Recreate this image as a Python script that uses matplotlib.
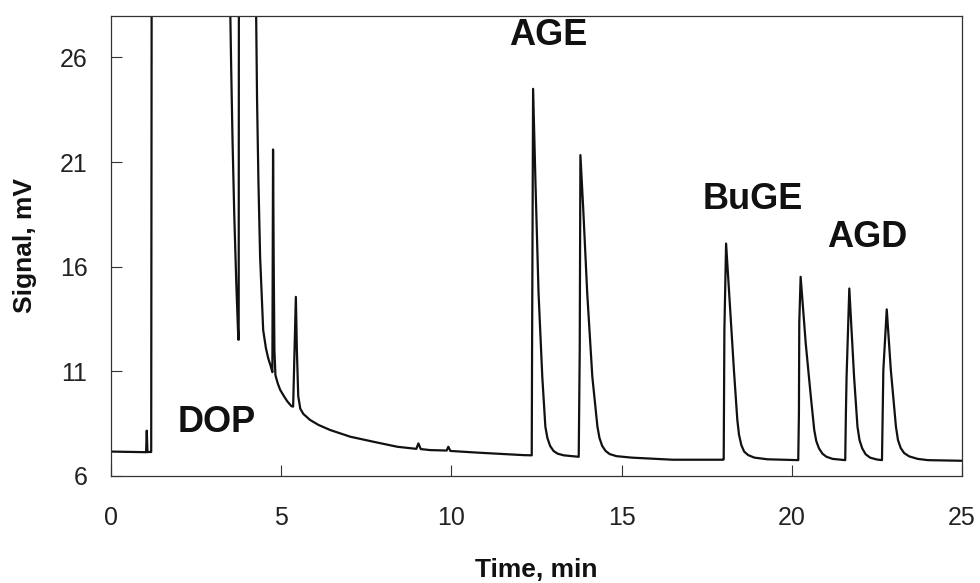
import matplotlib
matplotlib.use("Agg")
import matplotlib.pyplot as plt

# Chromatogram trace: retention time (min) and detector signal (mV).
# Values above the plot ceiling mark the off-scale solvent region.
time_min = [
    0.00, 0.60, 1.03, 1.05, 1.07, 1.10, 1.18, 1.20,
    3.48, 3.50, 3.53, 3.57, 3.62, 3.68, 3.74, 3.75,
    3.76, 4.25, 4.26, 4.29, 4.33, 4.38, 4.47, 4.55, 4.62, 4.68, 4.74,
    4.76, 4.78, 4.80, 4.83, 4.90, 4.97, 5.08, 5.18, 5.30, 5.35,
    5.43, 5.46, 5.50, 5.56, 5.65, 5.85, 6.10, 6.44, 7.03, 7.71, 8.41,
    8.97, 9.03, 9.10, 9.38, 9.86, 9.91, 9.97, 10.76, 12.12, 12.36,
    12.37, 12.40, 12.47, 12.56, 12.67, 12.76, 12.82, 12.90, 13.00,
    13.12, 13.30, 13.74,
    13.77, 13.79, 13.87, 13.99, 14.14, 14.29, 14.35, 14.43, 14.53,
    14.65, 14.85, 15.30, 16.50, 17.98,
    18.00, 18.02, 18.07, 18.21, 18.30, 18.40, 18.45, 18.52, 18.60,
    18.72, 18.90, 19.29, 20.19,
    20.21, 20.22, 20.26, 20.41, 20.56, 20.66, 20.72, 20.80, 20.90,
    21.02, 21.20, 21.57,
    21.59, 21.61, 21.69, 21.83, 21.93, 21.99, 22.07, 22.17, 22.30,
    22.50, 22.65,
    22.67, 22.69, 22.79, 22.91, 23.06, 23.12, 23.20, 23.30, 23.45,
    23.70, 24.00, 25.00,
]
signal_mv = [
    7.15, 7.13, 7.12, 8.15, 7.12, 7.13, 7.13, 40.0,
    40.0, 28.5, 25.5, 22.0, 18.5, 15.2, 12.5, 12.5,
    40.0, 40.0, 28.5, 24.0, 20.1, 16.45, 12.96, 12.1, 11.6, 11.3, 10.95,
    21.6, 16.0, 12.0, 10.8, 10.4, 10.1, 9.8, 9.55, 9.32, 9.30,
    14.55, 12.0, 9.8, 9.2, 8.95, 8.66, 8.42, 8.18, 7.86, 7.62, 7.38,
    7.28, 7.54, 7.27, 7.22, 7.20, 7.38, 7.18, 7.10, 6.98, 6.97,
    12.0, 24.5, 19.99, 14.73, 10.73, 8.34, 7.80, 7.42, 7.18,
    7.05, 6.97, 6.90,
    12.0, 21.33, 18.85, 14.73, 10.73, 8.34, 7.80, 7.42, 7.18,
    7.03, 6.93, 6.86, 6.76, 6.76,
    6.78, 12.96, 17.1, 13.44, 11.05, 8.66, 7.95, 7.45, 7.15,
    6.98, 6.86, 6.78, 6.74,
    9.0, 13.3, 15.51, 12.32, 9.77, 8.18, 7.65, 7.30, 7.05,
    6.90, 6.80, 6.74,
    9.0, 10.73, 14.95, 10.73, 8.34, 7.70, 7.30, 7.02, 6.86,
    6.77, 6.74,
    9.0, 11.05, 13.95, 11.05, 8.34, 7.70, 7.32, 7.08, 6.92,
    6.80, 6.74, 6.71,
]

# Peak annotations: label, time, signal
peak_labels = ["DOP", "AGE", "BuGE", "AGD"]
label_time = [3.09, 12.85, 18.85, 22.22]
label_signal = [8.54, 27.04, 19.22, 17.38]

x_ticks = [0, 5, 10, 15, 20, 25]
y_ticks = [6, 11, 16, 21, 26]

plt.rcParams["font.family"] = ["Liberation Sans", "DejaVu Sans"]

fig = plt.figure(figsize=(9.8, 5.83), dpi=100)
ax = fig.add_axes([0.1133, 0.1842, 0.9816 - 0.1133, 0.9731 - 0.1842])

ax.plot(time_min, signal_mv, color="#111111", lw=1.6, solid_joinstyle="round")

ax.set_xlim(0, 25)
ax.set_ylim(6, 28)
ax.set_xticks(x_ticks)
ax.set_yticks(y_ticks)
ax.tick_params(direction="in", length=8, width=0.8, colors="#333333",
               labelcolor="#222222", labelsize=18)
ax.tick_params(axis="x", pad=22)
ax.tick_params(axis="y", pad=17)
for side in ax.spines.values():
    side.set_color("#333333")
    side.set_linewidth(0.9)

ax.set_xlabel("Time, min", fontsize=19, fontweight="bold", color="#111111",
              labelpad=20)
ax.set_ylabel("Signal, mV", fontsize=19, fontweight="bold", color="#111111",
              labelpad=16)

for lab, t, s in zip(peak_labels, label_time, label_signal):
    ax.text(t, s, lab, fontsize=26, fontweight="bold", color="#111111",
            ha="center", va="center")

fig.savefig("out.png", dpi=100)
